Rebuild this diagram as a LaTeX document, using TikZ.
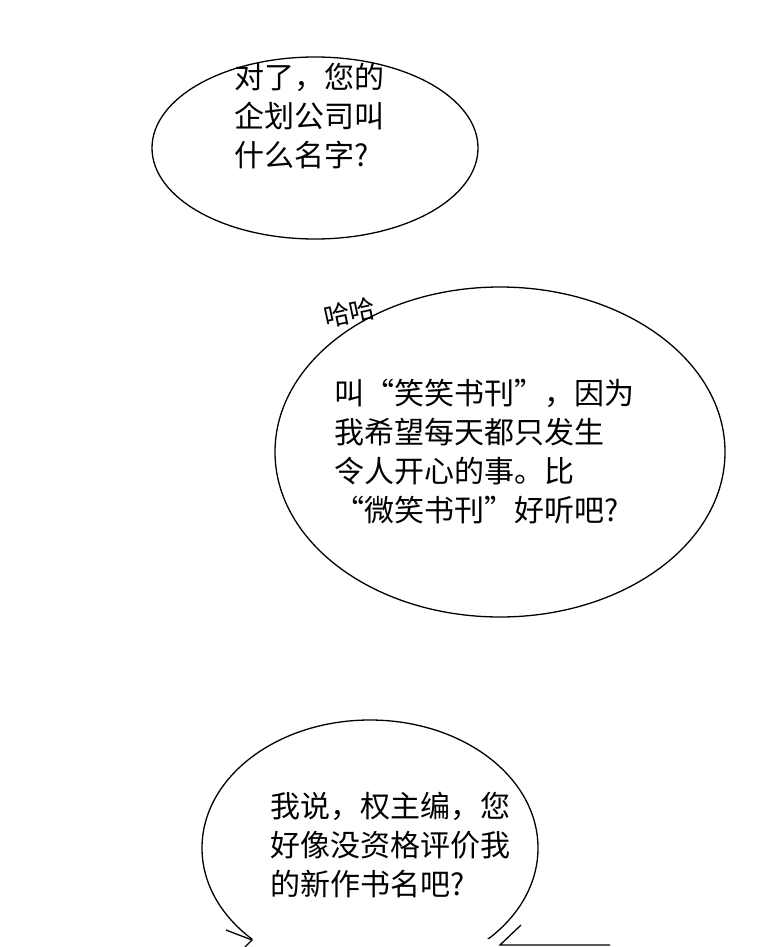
\documentclass[tikz,border=0pt]{standalone}
\usepackage{fontspec}
\newfontfamily\cjk{Noto Sans CJK SC}
\usetikzlibrary{positioning}
\tikzset{
  bubble/.style={draw=black, line width=1.3pt},
  talk/.style={font=\cjk\fontsize{30}{39}\selectfont, align=left, anchor=west, inner sep=0pt}
}
\begin{document}
\begin{tikzpicture}[x=1pt,y=-1pt]
\useasboundingbox[fill=white] (0,0) rectangle (760,947);
% first bubble
\draw[bubble] (315,148) ellipse (163 and 91);
\node[talk] (q1) at (234,116) {对了，您的\\企划公司叫\\什么名字?};
% second bubble
\draw[bubble] (500,452) ellipse (225 and 165);
\node[talk, rotate=12, font=\cjk\fontsize{26}{28}\selectfont] (laugh) at (324,318) {哈哈};
\node[talk] (a1) at (334,452) {叫“笑笑书刊”，因为\\我希望每天都只发生\\令人开心的事。比\\“微笑书刊”好听吧?};
% third bubble, open at the bottom
\begin{scope}
  \clip (0,0) rectangle (760,938);
  \draw[bubble] (370,848) ellipse (168 and 128);
\end{scope}
\draw[bubble] (226,930) -- (252,940) -- (245,947);
\draw[bubble] (521,925) -- (500,945) -- (610,945);
\node[talk] (q2) at (270,845) {我说，权主编，您\\好像没资格评价我\\的新作书名吧?};
\end{tikzpicture}
\end{document}
